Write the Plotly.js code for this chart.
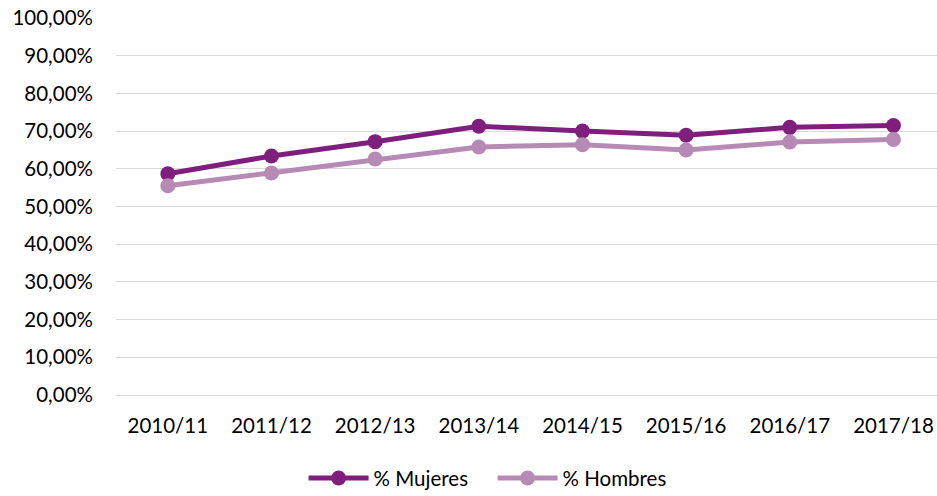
<!DOCTYPE html>
<html>
<head>
<meta charset="utf-8">
<script src="https://cdn.plot.ly/plotly-3.0.1.min.js"></script>
<style>html,body{margin:0;padding:0;background:#fff;}#chart{width:937px;height:496px;}</style>
</head>
<body>
<div id="chart"></div>
<script>
const categories = ["2010/11","2011/12","2012/13","2013/14","2014/15","2015/16","2016/17","2017/18"];
const mujeres = [58.7, 63.4, 67.2, 71.3, 70.0, 68.9, 71.0, 71.5];
const hombres = [55.5, 58.9, 62.6, 65.8, 66.4, 65.0, 67.1, 67.8];
const seriesNames = ["% Mujeres", "% Hombres"];

const FONT = "Lato, Open Sans, sans-serif";
const FS = 20.5;
const data = [
  {x: categories, y: mujeres, name: seriesNames[0], type: "scatter", mode: "lines+markers",
   line: {color: "#7f1f7d", width: 5}, marker: {color: "#7f1f7d", size: 15}},
  {x: categories, y: hombres, name: seriesNames[1], type: "scatter", mode: "lines+markers",
   line: {color: "#b68ab4", width: 5}, marker: {color: "#b68ab4", size: 15}}
];
const layout = {
  width: 937, height: 496,
  margin: {l: 116, r: 0, t: 18, b: 101},
  paper_bgcolor: "#fff", plot_bgcolor: "#fff",
  separators: ",.",
  font: {family: FONT, size: FS, color: "#000"},
  xaxis: {type: "category", range: [-0.5, 7.42], showgrid: false, zeroline: false,
          showline: false, ticks: "", ticklabelstandoff: 16, tickfont: {family: FONT, size: FS},
          automargin: false},
  yaxis: {range: [0, 100], dtick: 10, tickformat: ".2f", ticksuffix: "%",
          showgrid: true, gridcolor: "#d9d9d9", gridwidth: 1.3, zeroline: true, zerolinecolor: "#d9d9d9",
          zerolinewidth: 1.3, showline: false, ticks: "", ticklabelstandoff: 22,
          tickfont: {family: FONT, size: FS}, automargin: false},
  showlegend: true,
  legend: {orientation: "h", x: 0.324, xanchor: "left", xref: "container", y: 0.036, yanchor: "middle",
           yref: "container", font: {family: FONT, size: FS}, itemwidth: 60, entrywidth: 114,
           entrywidthmode: "pixels"}
};
Plotly.newPlot("chart", data, layout, {displayModeBar: false});
</script>
</body>
</html>
